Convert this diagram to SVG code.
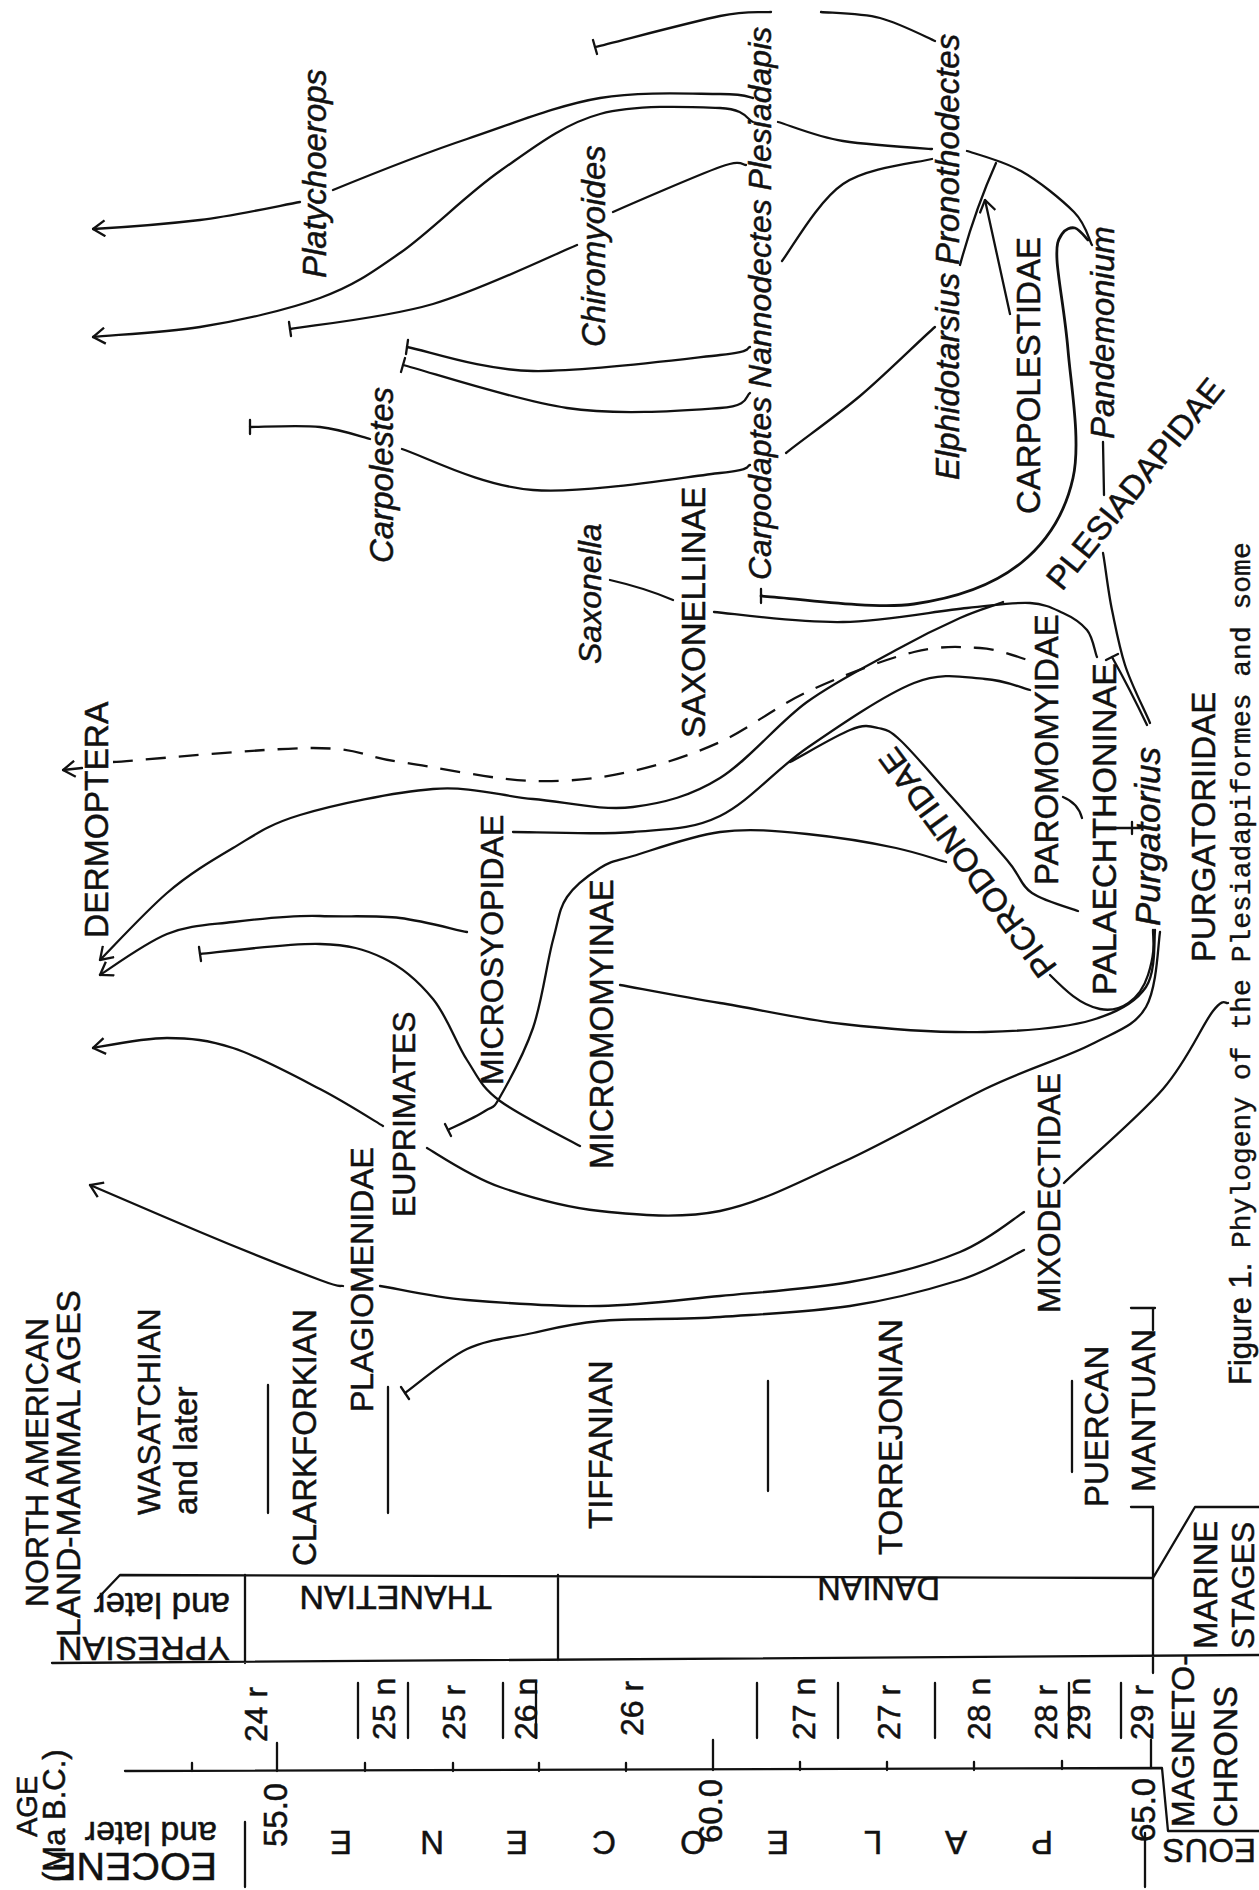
<svg xmlns="http://www.w3.org/2000/svg" width="1259" height="1890" viewBox="0 0 1259 1890">
<defs>
<style>
.t{font-family:"Liberation Sans",Arial,Helvetica,sans-serif;fill:#111;font-size:33px;stroke:#111;stroke-width:0.5}
.i{font-style:italic}
.m{font-family:"Liberation Mono","Courier New",monospace;fill:#111;font-size:28px;stroke:#111;stroke-width:0.4}
.ln{fill:none;stroke:#111;stroke-width:2.3;stroke-linecap:round;stroke-linejoin:round}
.dsh{stroke-dasharray:20 13;stroke-linecap:butt}
.arr{marker-start:url(#ah)}
.are{marker-end:url(#ah)}
</style>
<marker id="ah" viewBox="0 0 14 18" refX="13" refY="9" markerWidth="14" markerHeight="18" markerUnits="userSpaceOnUse" orient="auto-start-reverse"><path d="M1,1 L13,9 L1,17" fill="none" stroke="#111" stroke-width="2.3"/></marker>
</defs>
<rect width="1259" height="1890" fill="#fff"/>

<g id="connectors" class="ln">
<path class="arr" d="M93,229 C111,228 166,224 200,220 S283,205 300,202"/>
<path d="M333,190 C355,181 422,154 467,139 S558,105 600,98 S694,94 720,94 S748,97 753,98"/>
<path class="arr" d="M93,337 C111,335 162,333 200,327 S287,310 320,298 S370,274 400,253 S467,194 500,171 S563,124 600,114 S694,107 720,108 S747,120 753,122"/>
<path d="M595,47 C616,42 691,22 720,16 S762,13 771,12"/>
<path d="M821,12 C831,13 861,13 880,18 S926,37 935,41"/>
<path d="M290,329 C314,325 385,318 433,304 S553,255 577,245"/>
<path d="M613,212 C631,204 698,175 720,167 S742,165 746,165"/>
<path d="M407,347 C428,351 481,370 533,371 S684,359 720,355 S745,348 750,347"/>
<path d="M403,365 C430,372 514,400 567,408 S690,410 720,408 S745,396 750,393"/>
<path d="M250,427 C262,427 300,425 320,427 S362,437 370,439"/>
<path d="M402,449 C424,456 480,486 533,490 S684,477 720,473 S745,466 750,465"/>
<path d="M610,580 Q645,588 673,600"/>
<path d="M778,122 C789,125 817,137 843,141 S917,148 932,149"/>
<path d="M782,261 C792,248 818,201 843,184 S917,163 932,159"/>
<path d="M786,453 C798,443 835,417 860,396 S922,338 935,327"/>
<path d="M960,265 Q975,210 996,163"/>
<path d="M967,151 C976,154 1003,161 1021,171 S1062,200 1074,212 S1089,240 1092,245"/>
<path class="are" d="M1010,314 L985,200"/>
<path d="M761,596 C787,597 871,610 914,604 S995,584 1021,563 S1065,514 1073,478 S1071,386 1068,350 S1058,279 1057,260 S1059,239 1062,234 S1071,227 1075,228 S1086,238 1088,240" stroke-width="2.8"/>
<path d="M1103,442 L1104,495"/>
<path d="M1103,553 C1105,563 1108,591 1112,610 S1119,646 1125,665 S1146,713 1150,723"/>
<path d="M1112,657 C1122,675 1136,702 1147,725"/>
<path d="M714,612 C736,614 801,623 843,622 S936,611 967,608 S1014,602 1030,603 S1054,609 1063,613 S1081,623 1087,630 S1095,653 1097,657"/>
<path class="arr" d="M100,960 C111,949 145,912 167,893 S211,861 233,848 S267,825 300,815 S394,792 433,789 S500,796 533,799 S602,811 633,807 S691,796 720,778 S778,723 807,702 S871,664 896,650 S942,626 960,618 S996,605 1003,602"/>
<path class="dsh" d="M113,762 C146,760 265,748 313,748 S363,757 400,762 S494,780 533,781 S602,778 633,771 S691,755 720,742 S775,707 807,692 S885,659 914,652 S961,647 980,648 S1020,658 1028,660"/>
<path class="are" d="M82,768 L63,770"/>
<path d="M513,832 C533,832 598,835 633,832 S691,830 720,816 S775,770 807,748 S884,695 914,683 S966,678 985,679 S1022,688 1030,690"/>
<path d="M790,762 C800,757 835,736 850,730 S870,726 878,728 S888,729 900,740 S932,775 950,795 S993,844 1007,860 S1020,885 1032,893 S1070,908 1078,911"/>
<path d="M448,1130 C454,1127 476,1117 485,1111 S492,1111 500,1097 S524,1054 533,1028 S547,962 553,940 S559,909 567,897 S589,875 600,868 S613,862 633,856 S691,836 720,832 S778,831 807,834 S873,843 896,848 S938,860 946,862"/>
<path class="arr" d="M100,975 C111,968 145,943 167,934 S208,925 233,922 S292,915 320,916 S376,915 400,918 S456,930 467,932"/>
<path d="M200,954 C220,952 290,943 320,944 S364,949 383,958 S419,982 433,999 S456,1043 467,1060 S481,1087 500,1101 S567,1139 580,1146"/>
<path d="M620,985 C637,988 683,997 720,1003 S799,1019 843,1024 S944,1033 985,1032 S1065,1028 1092,1020 S1136,1002 1146,987 S1154,940 1155,930"/>
<path class="arr" d="M93,1048 C105,1046 144,1038 167,1038 S208,1040 233,1048 S295,1076 320,1089 S373,1120 383,1126"/>
<path d="M427,1148 C439,1155 471,1177 500,1187 S563,1207 600,1211 S680,1219 720,1211 S799,1182 843,1162 S944,1109 985,1089 S1065,1058 1092,1044 S1135,1026 1146,1007 S1158,945 1160,932"/>
<path class="arr" d="M90,1185 C108,1193 162,1216 200,1232 S296,1271 320,1280 S339,1285 343,1286"/>
<path d="M380,1286 C395,1288 430,1297 467,1300 S558,1307 600,1306 S678,1300 720,1296 S810,1289 850,1282 S931,1264 960,1252 S1013,1219 1024,1212"/>
<path d="M405,1393 C415,1386 446,1359 467,1349 S511,1338 533,1333 S569,1324 600,1321 S678,1320 720,1317 S810,1312 850,1306 S931,1289 960,1280 S1013,1255 1024,1250"/>
<path d="M1064,1183 C1080,1167 1138,1118 1163,1089 S1202,1025 1213,1011 S1225,1004 1228,1003"/>
<path d="M1050,975 C1065,990 1080,1005 1100,1009 S1140,1000 1148,975 S1153,940 1153,930"/>
<path d="M1063,797 Q1078,803 1082,818"/>
<path d="M1116,828 L1140,828 M1132,822 L1132,834"/>
<path d="M593,40 L597,54 M289,322 L291,336 M408,340 L406,354 M405,358 L401,372 M250,420 L250,434 M199,947 L201,961 M445,1124 L451,1136 M401,1387 L409,1399 M761,589 L761,603 M1106,660 L1118,654"/>
</g>

<g id="timescale-lines" class="ln">
<path d="M125,1771 L1162,1768 L1168,1831 L1259,1831"/>
<path d="M277,1743 L277,1771 M713,1740 L713,1770 M1151,1740 L1151,1768"/>
<path d="M192,1763 L192,1771 M365,1763 L365,1771 M453,1763 L453,1771 M539,1763 L539,1771 M626,1763 L626,1771 M800,1762 L800,1770 M887,1762 L887,1770 M974,1762 L974,1770 M1062,1761 L1062,1769"/>
<path d="M358,1683 L358,1738 M408,1683 L408,1738 M503,1683 L503,1738 M536,1683 L536,1738 M757,1683 L757,1738 M838,1683 L838,1738 M935,1683 L935,1738 M1069,1683 L1069,1738 M1121,1683 L1121,1738"/>
<path d="M268,1385 L268,1513 M388,1387 L388,1513 M768,1381 L768,1491 M1072,1381 L1072,1472"/>
<path d="M1131,1308 L1155,1308 M1153,1308 L1153,1330 M1131,1507 L1153,1507"/>
<path d="M98,1598 L120,1575 L1153,1578 M52,1663 L1259,1655 M245,1575 L245,1663 M558,1575 L558,1660 M1153,1507 L1153,1673 M1153,1578 L1195,1507 L1259,1507"/>
<path d="M245,1822 L245,1887 M1145,1833 L1145,1887"/>
</g>

<g id="taxa">
<g id="n-platychoerops"><text class="t i" transform="translate(326,278) rotate(-90)">Platychoerops</text></g>
<g id="n-chiromyoides"><text class="t i" transform="translate(605,347) rotate(-90)">Chiromyoides</text></g>
<g id="n-carpolestes"><text class="t i" transform="translate(393,563) rotate(-90)">Carpolestes</text></g>
<g id="n-saxonella"><text class="t i" style="font-size:32px" transform="translate(601,664) rotate(-90)">Saxonella</text></g>
<g id="n-saxonellinae"><text class="t" transform="translate(705,738) rotate(-90)">SAXONELLINAE</text></g>
<g id="n-carpodaptes"><text class="t i" style="font-size:32px" transform="translate(771,580) rotate(-90)">Carpodaptes Nannodectes Plesiadapis</text></g>
<g id="n-elphidotarsius"><text class="t i" transform="translate(959,480) rotate(-90)">Elphidotarsius</text></g>
<g id="n-pronothodectes"><text class="t i" transform="translate(959,265) rotate(-90)">Pronothodectes</text></g>
<g id="n-carpolestidae"><text class="t" transform="translate(1040,514) rotate(-90)">CARPOLESTIDAE</text></g>
<g id="n-pandemonium"><text class="t i" transform="translate(1114,439) rotate(-90)">Pandemonium</text></g>
<g id="n-plesiadapidae"><text class="t" transform="translate(1062,592) rotate(-51)">PLESIADAPIDAE</text></g>
<g id="n-dermoptera"><text class="t" style="font-size:33.5px" transform="translate(108,938) rotate(-90)">DERMOPTERA</text></g>
<g id="n-microsyopidae"><text class="t" style="font-size:32px" transform="translate(503,1085) rotate(-90)">MICROSYOPIDAE</text></g>
<g id="n-euprimates"><text class="t" style="font-size:32px" transform="translate(415,1217) rotate(-90)">EUPRIMATES</text></g>
<g id="n-micromomyinae"><text class="t" transform="translate(613,1169) rotate(-90)">MICROMOMYINAE</text></g>
<g id="n-plagiomenidae"><text class="t" style="font-size:32px" transform="translate(373,1412) rotate(-90)">PLAGIOMENIDAE</text></g>
<g id="n-mixodectidae"><text class="t" style="font-size:31.5px" transform="translate(1060,1313) rotate(-90)">MIXODECTIDAE</text></g>
<g id="n-paromomyidae"><text class="t" transform="translate(1058,885) rotate(-90)">PAROMOMYIDAE</text></g>
<g id="n-palaechthoninae"><text class="t" style="font-size:34px" transform="translate(1116,995) rotate(-90)">PALAECHTHONINAE</text></g>
<g id="n-purgatorius"><text class="t i" style="font-size:35px" transform="translate(1160,926) rotate(-90)">Purgatorius</text></g>
<g id="n-purgatoriidae"><text class="t" transform="translate(1215,962) rotate(-90)">PURGATORIIDAE</text></g>
<g id="n-picrodontidae"><text class="t" transform="translate(1058,967) rotate(-126.2)">PICRODONTIDAE</text></g>
</g>

<g id="timescale-labels">
<text class="t" style="font-size:32px" transform="translate(48,1607) rotate(-90)">NORTH AMERICAN</text>
<text class="t" style="font-size:33.5px" transform="translate(80,1637) rotate(-90)">LAND-MAMMAL AGES</text>
<text class="t" style="font-size:31.5px" transform="translate(160,1515) rotate(-90)">WASATCHIAN</text>
<text class="t" transform="translate(197,1515) rotate(-90)">and later</text>
<text class="t" transform="translate(316,1566) rotate(-90)">CLARKFORKIAN</text>
<text class="t" transform="translate(612,1529) rotate(-90)">TIFFANIAN</text>
<text class="t" transform="translate(902,1555) rotate(-90)">TORREJONIAN</text>
<text class="t" transform="translate(1108,1507) rotate(-90)">PUERCAN</text>
<text class="t" transform="translate(1155,1492) rotate(-90)">MANTUAN</text>
<text class="t" style="font-size:29px" transform="translate(37,1837) rotate(-90)">AGE</text>
<text class="t" style="font-size:31px" transform="translate(65,1882) rotate(-90)">(Ma B.C.)</text>
<text class="t" transform="translate(287,1847) rotate(-90)">55.0</text>
<text class="t" transform="translate(722,1843) rotate(-90)">60.0</text>
<text class="t" transform="translate(1155,1842) rotate(-90)">65.0</text>
<g>
<text class="t" style="font-size:32px" transform="translate(267,1742) rotate(-90)">24 r</text>
<text class="t" style="font-size:32px" transform="translate(395,1740) rotate(-90)">25 n</text>
<text class="t" style="font-size:32px" transform="translate(465,1740) rotate(-90)">25 r</text>
<text class="t" style="font-size:32px" transform="translate(537,1740) rotate(-90)">26 n</text>
<text class="t" style="font-size:32px" transform="translate(643,1736) rotate(-90)">26 r</text>
<text class="t" style="font-size:32px" transform="translate(815,1740) rotate(-90)">27 n</text>
<text class="t" style="font-size:32px" transform="translate(900,1740) rotate(-90)">27 r</text>
<text class="t" style="font-size:32px" transform="translate(990,1740) rotate(-90)">28 n</text>
<text class="t" style="font-size:32px" transform="translate(1057,1740) rotate(-90)">28 r</text>
<text class="t" style="font-size:32px" transform="translate(1090,1740) rotate(-90)">29 n</text>
<text class="t" style="font-size:32px" transform="translate(1153,1740) rotate(-90)">29 r</text>
</g>
<text class="t" style="font-size:32px" transform="translate(1194,1827) rotate(-90)">MAGNETO-</text>
<text class="t" style="font-size:32.5px" transform="translate(1237,1827) rotate(-90)">CHRONS</text>
<text class="t" transform="translate(1217,1649) rotate(-90)">MARINE</text>
<text class="t" style="font-size:32px" transform="translate(1254,1649) rotate(-90)">STAGES</text>
<text class="t" style="font-size:39.5px" transform="translate(217,1853) rotate(180)">EOCENE</text>
<text class="t" style="font-size:34px" transform="translate(217,1822) rotate(180)">and later</text>
<text class="t" style="font-size:34px" transform="translate(230,1637) rotate(180)">YPRESIAN</text>
<text class="t" style="font-size:35px" transform="translate(230,1593) rotate(180)">and later</text>
<text class="t" style="font-size:34px" transform="translate(492,1586) rotate(180)">THANETIAN</text>
<text class="t" style="font-size:32.5px" transform="translate(940,1577) rotate(180)">DANIAN</text>
<g text-anchor="middle">
<text class="t" transform="translate(1042,1831) rotate(180)">P</text>
<text class="t" transform="translate(956,1831) rotate(180)">A</text>
<text class="t" transform="translate(873,1831) rotate(180)">L</text>
<text class="t" transform="translate(778,1831) rotate(180)">E</text>
<text class="t" transform="translate(693,1831) rotate(180)">O</text>
<text class="t" transform="translate(604,1831) rotate(180)">C</text>
<text class="t" transform="translate(517,1831) rotate(180)">E</text>
<text class="t" transform="translate(432,1831) rotate(180)">N</text>
<text class="t" transform="translate(341,1831) rotate(180)">E</text>
</g>
<text class="t" transform="translate(1256,1839) rotate(180)">EOUS</text>
</g>

<g id="caption">
<text class="t" style="font-size:31px" transform="translate(1251,1385) rotate(-90)">Figure 1.</text>
<text class="m" transform="translate(1250,1248) rotate(-90)">Phylogeny of the Plesiadapiformes and some</text>
</g>
</svg>
